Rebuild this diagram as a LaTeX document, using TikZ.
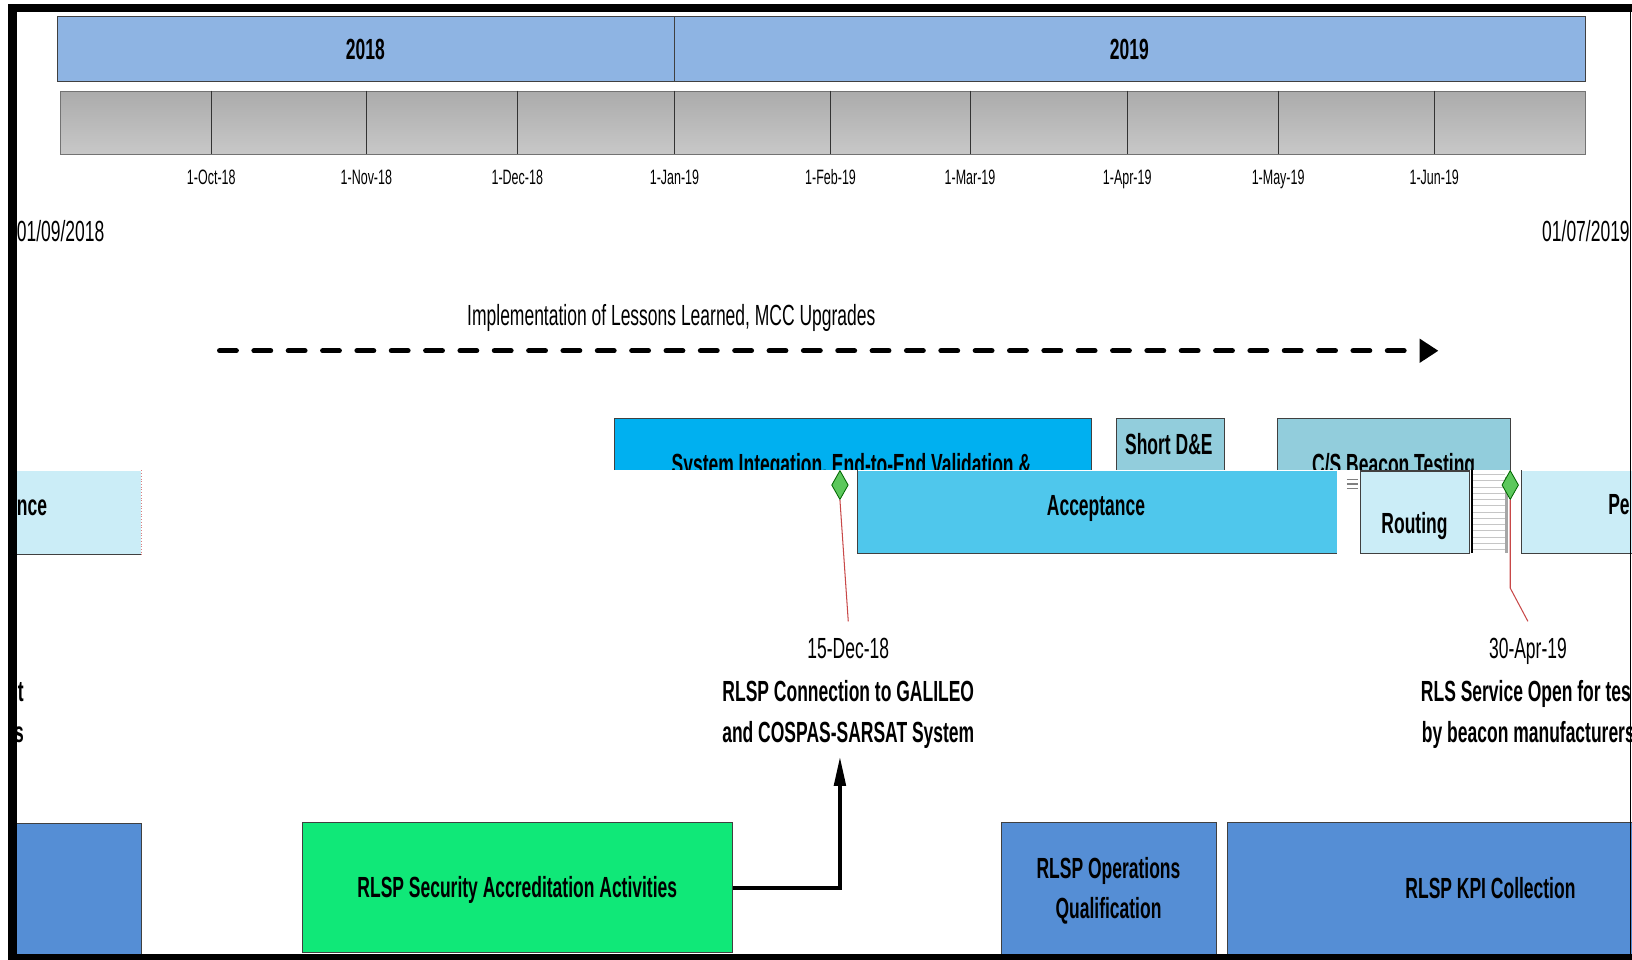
\documentclass[tikz,border=0pt]{standalone}
\usepackage{fontspec}
\setmainfont{Liberation Sans}[FakeStretch=0.6]
\usetikzlibrary{shapes.geometric,arrows.meta}
\definecolor{yearblue}{HTML}{8EB4E3}
\definecolor{mtop}{HTML}{ABABAB}
\definecolor{mbot}{HTML}{C8C8C8}
\definecolor{sysblue}{HTML}{00B0F0}
\definecolor{paleblue}{HTML}{92CDDC}
\definecolor{accblue}{HTML}{4FC7EC}
\definecolor{noisyblue}{HTML}{CBEDF7}
\definecolor{steel}{HTML}{558ED5}
\definecolor{secgreen}{HTML}{10E878}
\definecolor{msgreen}{HTML}{5CC85C}
\definecolor{leadred}{HTML}{C84848}
\definecolor{boxline}{HTML}{404040}
\newcommand\fbig{\fontsize{28}{39}\selectfont}
\newcommand\fmon{\fontsize{20}{24}\selectfont}
\tikzset{
  box/.style={draw=boxline, line width=1pt, inner sep=0pt, anchor=north west},
  reg/.style={font=\fbig, inner sep=0pt, anchor=base},
  bld/.style={font=\fbig\bfseries, inner sep=0pt, anchor=base},
  mon/.style={font=\fmon, inner sep=0pt, anchor=base},
  divider/.style={draw=black!80, line width=0.8pt},
  milestone/.style={diamond, draw=green!40!black, fill=msgreen, line width=0.8pt,
    minimum width=16pt, minimum height=28pt, inner sep=0pt},
  leader/.style={draw=leadred, line width=1pt},
  dasharrow/.style={draw=black, line width=5pt, dash pattern=on 16pt off 17pt,
    line cap=round, -{Triangle[length=18pt,width=22pt]}},
  linkarrow/.style={draw=black, line width=3.5pt, -{Triangle[length=28pt,width=11pt]}},
}
\begin{document}
\begin{tikzpicture}[x=1pt,y=-1pt]
\useasboundingbox (0,0) rectangle (1568,922);
\clip (0,0) rectangle (1568,922);

% year bar
\node[box, fill=yearblue, minimum width=593pt, minimum height=63pt] (yr18) at (55,15) {};
\node[box, fill=yearblue, minimum width=875pt, minimum height=63pt] (yr19) at (648,15) {};
\node[bld] (t18) at (351,57) {2018};
\node[bld] (t19) at (1085,57) {2019};

% month bar
\node[box, draw=black!55, top color=mtop, bottom color=mbot, minimum width=1465pt, minimum height=61pt] (mbar) at (58,87) {};
\foreach \xx in {203,352,497,648,798,932,1083,1228,1378}
  \draw[divider] (\xx,87) -- (\xx,148);
\node[mon] (m10) at (203,177) {1-Oct-18};
\node[mon] (m11) at (352,177) {1-Nov-18};
\node[mon] (m12) at (497,177) {1-Dec-18};
\node[mon] (m01) at (648,177) {1-Jan-19};
\node[mon] (m02) at (798,177) {1-Feb-19};
\node[mon] (m03) at (932,177) {1-Mar-19};
\node[mon] (m04) at (1083,177) {1-Apr-19};
\node[mon] (m05) at (1228,177) {1-May-19};
\node[mon] (m06) at (1378,177) {1-Jun-19};

% start / end dates
\node[reg, anchor=base west] (dstart) at (16,232) {01/09/2018};
\node[reg, anchor=base east] (dend) at (1566,232) {01/07/2019};

% lessons learned arrow
\node[reg] (impl) at (645,313) {Implementation of Lessons Learned, MCC Upgrades};
\coordinate (dashA) at (211,337);
\coordinate (dashB) at (1382,337);
\draw[dasharrow] (dashA) -- (dashB);

% upper row (cut off at y=451)
\begin{scope}
  \clip (0,0) rectangle (1568,451);
  \node[box, fill=sysblue, minimum width=458pt, minimum height=90pt] (sysint) at (590,402) {};
  \node[box, fill=paleblue, minimum width=104pt, minimum height=90pt] (shortde) at (1072,402) {};
  \node[box, fill=paleblue, minimum width=224pt, minimum height=90pt] (csbeacon) at (1227,402) {};
  \node[bld] (tsys) at (818,456) {System Integation, End-to-End Validation \&};
  \node[bld] (tcs) at (1339,456) {C/S Beacon Testing};
\end{scope}
\node[bld] (tshort) at (1123,437) {Short D\&E};

% lower part of the row
\node[box, fill=noisyblue, draw=none, minimum width=119pt, minimum height=80pt] (leftpart) at (16,452) {};
\draw[boxline, line width=1pt] (leftpart.south west) -- (leftpart.south east);
\draw[leadred!70, line width=0.6pt, dotted] (leftpart.north east) -- (leftpart.south east);
\node[bld, anchor=base west] (tnce) at (16,495) {nce};

\node[box, fill=accblue, draw=none, minimum width=460pt, minimum height=79pt] (acc) at (824,452) {};
\draw[boxline, line width=1pt] (acc.north west) -- (acc.south west) -- (acc.south east);
\node[bld] (tacc) at (1053,495) {Acceptance};

\node[box, fill=noisyblue, minimum width=104pt, minimum height=79pt] (routing) at (1307,452) {};
\node[bld] (trout) at (1359,513) {Routing};
\foreach \yy in {456,462,...,528}
  \draw[gray!45, line width=0.8pt] (1414,\yy) -- (1446,\yy);
\draw[black, line width=1.5pt] (1414,452) -- (1414,531);
\draw[gray!70, line width=3pt] (1447,458) -- (1447,531);
\foreach \yy in {461,465,469}
  \draw[gray, line width=1pt] (1294,\yy) -- (1305,\yy);

\node[box, fill=noisyblue, draw=none, minimum width=110pt, minimum height=79pt] (rightpart) at (1462,452) {};
\draw[boxline, line width=1pt] (rightpart.north west) -- (rightpart.south west) -- (rightpart.south east);
\node[bld, anchor=base west] (tpe) at (1545,494) {Pe};

% milestones
\node[milestone] (ms1) at (807,466) {};
\node[milestone] (ms2) at (1451,466) {};
\coordinate (ms1end) at (815,597);
\coordinate (ms2bend) at (1451,565);
\coordinate (ms2end) at (1468,597);
\draw[leader] (ms1.south) -- (ms1end);
\draw[leader] (ms2.south) -- (ms2bend) -- (ms2end);

\node[reg] (ms1date) at (815,633) {15-Dec-18};
\node[bld] (ms1a) at (815,674) {RLSP Connection to GALILEO};
\node[bld] (ms1b) at (815,713) {and COSPAS-SARSAT System};

\node[reg] (ms2date) at (1468,633) {30-Apr-19};
\node[bld, anchor=base west] (ms2a) at (1365,674) {RLS Service Open for tes};
\node[bld, anchor=base west] (ms2b) at (1366,713) {by beacon manufacturers};

\node[bld, anchor=base east] (lft1) at (23,674) {t};
\node[bld, anchor=base east] (lft2) at (23,713) {s};

% bottom row
\node[box, fill=steel, minimum width=125pt, minimum height=127pt] (leftblue) at (10,791) {};
\node[box, fill=secgreen, minimum width=413pt, minimum height=125pt] (security) at (290,790) {};
\node[bld] (tsec) at (497,862) {RLSP Security Accreditation Activities};
\node[box, fill=steel, minimum width=206pt, minimum height=130pt] (ops) at (962,790) {};
\node[bld] (tops1) at (1065,844) {RLSP Operations};
\node[bld] (tops2) at (1065,882) {Qualification};
\node[box, fill=steel, minimum width=400pt, minimum height=130pt] (kpi) at (1179,790) {};
\node[bld] (tkpi) at (1432,863) {RLSP KPI Collection};

\coordinate (linkTip) at (807,727);
\draw[linkarrow] (security.east) -| (linkTip);

% frame
\fill[black] (8,4) rectangle (1568,12);
\fill[black] (8,4) rectangle (16,922);
\fill[black] (8,917) rectangle (1568,922);
\draw[black, line width=1.5pt] (1566.5,12) -- (1566.5,917);
\end{tikzpicture}
\end{document}
